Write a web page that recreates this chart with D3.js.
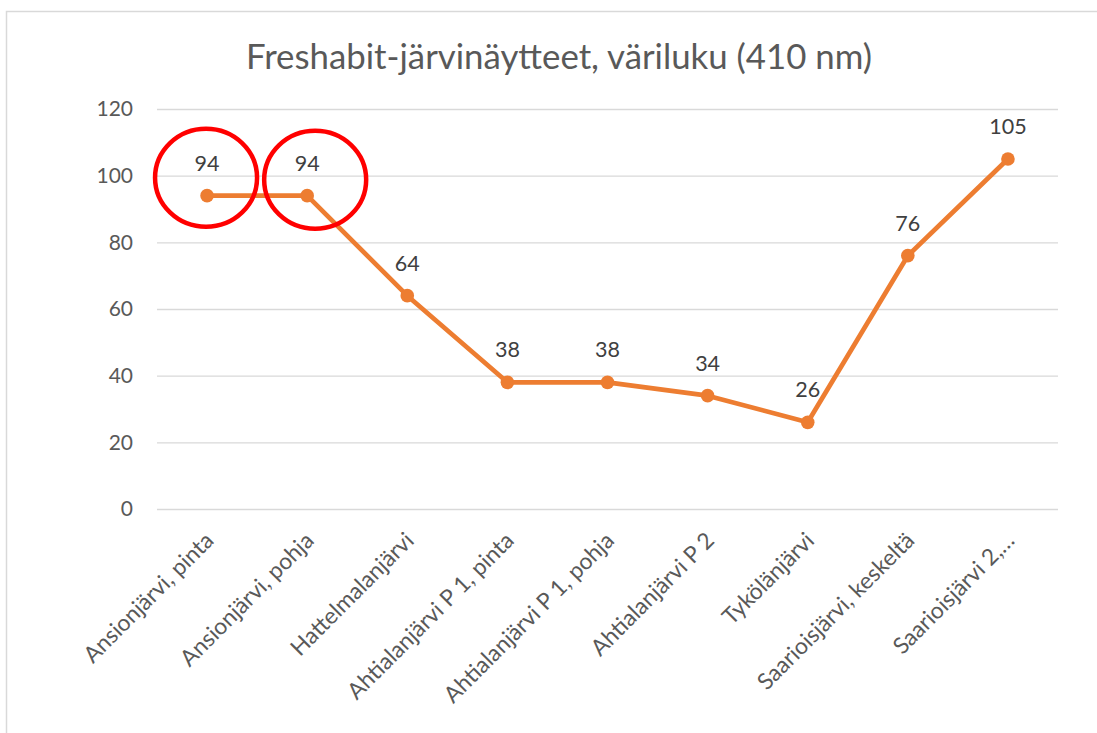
<!DOCTYPE html>
<html>
<head>
<meta charset="utf-8">
<script src="https://cdn.jsdelivr.net/npm/d3@7"></script>
<style>
  html, body { margin: 0; padding: 0; background: #fff; }
  svg { display: block; font-family: Lato, "Open Sans", sans-serif; }
</style>
</head>
<body>
<svg id="chart" width="1097" height="733"></svg>
<script>
const title = "Freshabit-järvinäytteet, väriluku (410 nm)";
const categories = [
  "Ansionjärvi, pinta",
  "Ansionjärvi, pohja",
  "Hattelmalanjärvi",
  "Ahtialanjärvi P 1, pinta",
  "Ahtialanjärvi P 1, pohja",
  "Ahtialanjärvi P 2",
  "Tykölänjärvi",
  "Saarioisjärvi, keskeltä",
  "Saarioisjärvi 2,…"
];
const values = [94, 94, 64, 38, 38, 34, 26, 76, 105];
const yTicks = [0, 20, 40, 60, 80, 100, 120];
const highlighted = [0, 1]; // categories circled in red

const svg = d3.select("#chart");
const W = 1097, H = 733;
const margin = { left: 157, right: W - 1058, top: 109, bottom: H - 509 };

// chart area border
svg.append("path")
  .attr("d", `M6.5,${H} V11.5 H${W}`)
  .attr("fill", "none")
  .attr("stroke", "#d9d9d9")
  .attr("stroke-width", 1.5);

const x = d3.scaleBand().domain(categories).range([margin.left, W - margin.right]);
const y = d3.scaleLinear().domain([0, 120]).range([H - margin.bottom, margin.top]);
const cx = c => x(c) + x.bandwidth() / 2;

// title
svg.append("text")
  .attr("x", 559).attr("y", 69)
  .attr("text-anchor", "middle")
  .attr("font-size", 34.8)
  .attr("fill", "#595959")
  .text(title);

// gridlines + y labels
const yAxis = d3.axisLeft(y).tickValues(yTicks).tickSize(-(W - margin.left - margin.right)).tickPadding(24);
const gy = svg.append("g").attr("transform", `translate(${margin.left},0)`).call(yAxis);
gy.select(".domain").remove();
gy.selectAll(".tick line").attr("stroke", "#d9d9d9").attr("stroke-width", 1.3);
gy.selectAll(".tick text").attr("font-size", 21).attr("fill", "#595959").attr("font-family", "Lato, sans-serif");

// x labels
const xAxis = d3.axisBottom(x).tickSize(0).tickPadding(0);
const gx = svg.append("g").attr("transform", `translate(0,${H - margin.bottom})`).call(xAxis);
gx.select(".domain").remove();
gx.selectAll(".tick text")
  .attr("font-size", 22.8)
  .attr("fill", "#595959")
  .attr("font-family", "Lato, sans-serif")
  .attr("text-anchor", "end")
  .attr("dy", 0)
  .attr("transform", "translate(8,33) rotate(-45)");

// line
const line = d3.line().x((d, i) => cx(categories[i])).y(d => y(d));
svg.append("path")
  .datum(values)
  .attr("d", line)
  .attr("fill", "none")
  .attr("stroke", "#ED7D31")
  .attr("stroke-width", 4.7)
  .attr("stroke-linejoin", "round");

// markers
svg.selectAll("circle.pt")
  .data(values)
  .enter().append("circle")
  .attr("class", "pt")
  .attr("cx", (d, i) => cx(categories[i]))
  .attr("cy", d => y(d))
  .attr("r", 6.8)
  .attr("fill", "#ED7D31");

// data labels
svg.selectAll("text.lbl")
  .data(values)
  .enter().append("text")
  .attr("class", "lbl")
  .attr("x", (d, i) => cx(categories[i]))
  .attr("y", d => y(d) - 25)
  .attr("text-anchor", "middle")
  .attr("font-size", 21.5)
  .attr("fill", "#404040")
  .text(d => d);

// red annotation circles
svg.selectAll("ellipse.hl")
  .data(highlighted)
  .enter().append("ellipse")
  .attr("class", "hl")
  .attr("cx", (d, i) => cx(categories[d]) + (i === 0 ? -1 : 8))
  .attr("cy", (d, i) => y(values[d]) - (i === 0 ? 18 : 16))
  .attr("rx", 51)
  .attr("ry", 49)
  .attr("fill", "none")
  .attr("stroke", "#FF0000")
  .attr("stroke-width", 4.5);
</script>
</body>
</html>
